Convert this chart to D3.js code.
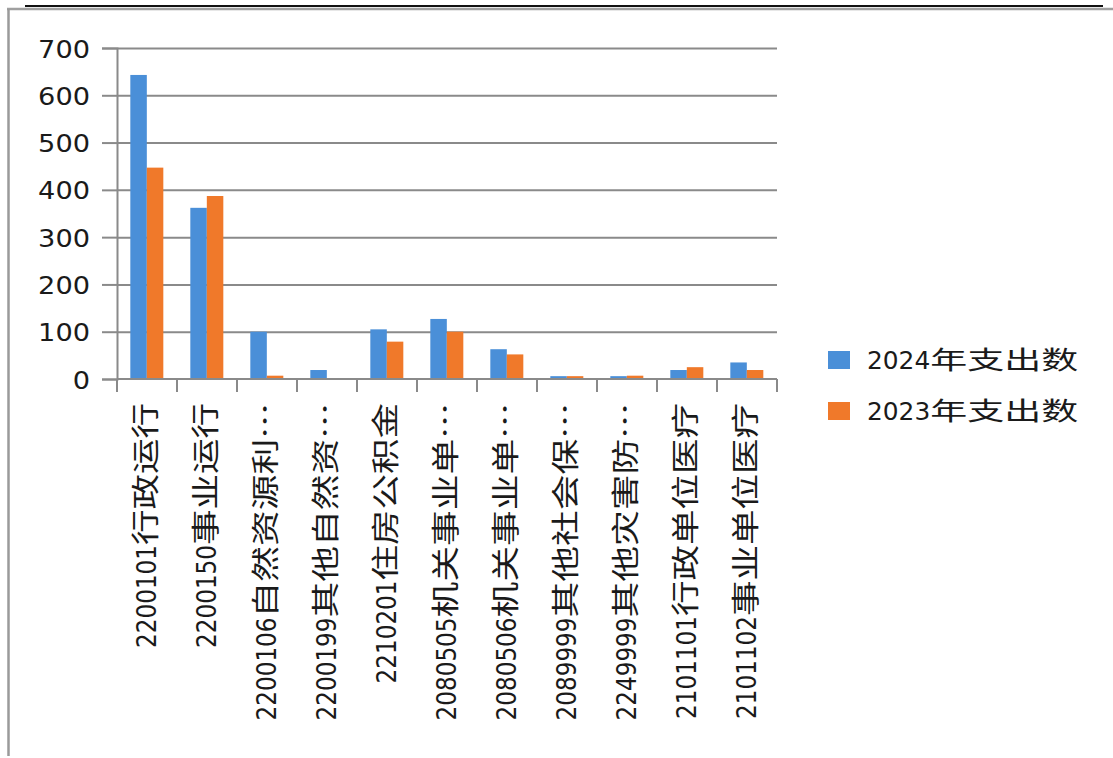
<!DOCTYPE html>
<html>
<head>
<meta charset="utf-8">
<script src="https://cdn.jsdelivr.net/npm/d3@7"></script>
<style>
  html, body { margin: 0; padding: 0; background: #ffffff; }
  svg { display: block; }
  text { fill: #1a1a1a; }
</style>
</head>
<body>
<svg id="chart" width="1113" height="758"></svg>
<script>
// ---- data ----
const categories = [
  "2200101行政运行",
  "2200150事业运行",
  "2200106自然资源利…",
  "2200199其他自然资…",
  "2210201住房公积金",
  "2080505机关事业单…",
  "2080506机关事业单…",
  "2089999其他社会保…",
  "2249999其他灾害防…",
  "2101101行政单位医疗",
  "2101102事业单位医疗"
];
const seriesNames = ["2024年支出数", "2023年支出数"];
const values2024 = [643, 362, 100, 19, 105, 127, 63, 6, 6, 19, 35];
const values2023 = [447, 387, 7, 0, 79, 100, 52, 6, 7, 25, 19];
const yTicks = [0, 100, 200, 300, 400, 500, 600, 700];

// ---- styles / layout ----
const colors = {"2024年支出数": "#4a8fd8", "2023年支出数": "#f0792a"};
const lineColor = "#8a8a8a";
const fontCJK = "'Noto Sans CJK SC', 'Noto Sans', sans-serif";
const fontNum = "'DejaVu Sans', Verdana, sans-serif";

function splitLabel(str) {
  const m = str.match(/^([0-9]*)(.*)$/);
  return {num: m[1], rest: m[2]};
}
function restLen(str, cjkW, ellW) {
  let w = 0;
  for (const ch of str) w += (ch === "…") ? ellW : cjkW;
  return w;
}

const svg = d3.select("#chart");

// frame
svg.append("line").attr("x1", 7).attr("x2", 1113).attr("y1", 9).attr("y2", 9)
  .attr("stroke", "#a0a0a0").attr("stroke-width", 2.5);
svg.append("line").attr("x1", 25).attr("x2", 1103).attr("y1", 6).attr("y2", 6)
  .attr("stroke", "#111").attr("stroke-width", 2.2);
svg.append("line").attr("x1", 8.5).attr("x2", 8.5).attr("y1", 9).attr("y2", 756)
  .attr("stroke", "#9a9a9a").attr("stroke-width", 2.5);

const y = d3.scaleLinear().domain([0, 700]).range([379, 48]);
const x0 = d3.scaleBand().domain(categories).range([117, 777]).paddingInner(0).paddingOuter(0);
const bw = x0.bandwidth();
const x1 = d3.scaleBand().domain(seriesNames).range([bw * 0.222, bw * 0.772]);

// gridlines
const grid = svg.append("g").attr("transform", `translate(117,0)`)
  .call(d3.axisLeft(y).tickValues(yTicks.filter(v => v > 0)).tickSize(-660).tickFormat(""));
grid.select(".domain").remove();
grid.selectAll("line").attr("stroke", lineColor).attr("stroke-width", 2);

// bars
const rows = categories.map((c, i) => ({cat: c, vals: [
  {s: seriesNames[0], v: values2024[i]},
  {s: seriesNames[1], v: values2023[i]}
]}));
const gBars = svg.append("g");
gBars.selectAll("g").data(rows).join("g")
  .attr("transform", d => `translate(${x0(d.cat)},0)`)
  .selectAll("rect").data(d => d.vals).join("rect")
  .attr("x", d => x1(d.s))
  .attr("width", x1.bandwidth())
  .attr("y", d => y(d.v))
  .attr("height", d => y(0) - y(d.v))
  .attr("fill", d => colors[d.s]);

// y axis
const yAxis = svg.append("g").attr("transform", `translate(117,0)`)
  .call(d3.axisLeft(y).tickValues(yTicks).tickSize(15).tickPadding(12));
yAxis.select(".domain").attr("stroke", lineColor).attr("stroke-width", 2);
yAxis.selectAll(".tick line").attr("stroke", lineColor).attr("stroke-width", 2);
yAxis.selectAll(".tick text")
  .attr("font-family", fontNum).attr("font-size", 25).attr("fill", "#1a1a1a")
  .attr("x", -27)
  .attr("dy", "0.36em")
  .attr("textLength", d => String(d).length * 17.3)
  .attr("lengthAdjust", "spacingAndGlyphs");

// x axis line and ticks at category boundaries
svg.append("line").attr("x1", 117).attr("x2", 777).attr("y1", y(0)).attr("y2", y(0))
  .attr("stroke", lineColor).attr("stroke-width", 2);
const bounds = categories.map(c => x0(c)).concat([x0.range()[1]]);
svg.append("g").selectAll("line").data(bounds).join("line")
  .attr("x1", d => d).attr("x2", d => d)
  .attr("y1", y(0)).attr("y2", y(0) + 13)
  .attr("stroke", lineColor).attr("stroke-width", 2);

// x labels (rotated): code digits + Chinese name, each fitted to the original widths
const labelTop = 403;
const xl = svg.append("g").selectAll("g").data(categories).join("g")
  .attr("transform", d => `translate(${x0(d) + bw / 2 - 1},0)`);
xl.append("text")
  .attr("transform", `translate(0,${labelTop}) rotate(-90)`)
  .attr("text-anchor", "end")
  .attr("dy", "0.36em")
  .attr("font-family", fontCJK)
  .attr("font-size", 28)
  .attr("textLength", d => restLen(splitLabel(d).rest, 35.5, 37))
  .attr("lengthAdjust", "spacingAndGlyphs")
  .text(d => splitLabel(d).rest);
xl.append("text")
  .attr("transform", d => `translate(0,${labelTop + restLen(splitLabel(d).rest, 35.5, 37)}) rotate(-90)`)
  .attr("text-anchor", "end")
  .attr("dy", "0.36em")
  .attr("font-family", fontNum)
  .attr("font-size", 27)
  .attr("textLength", d => splitLabel(d).num.length * 14.7)
  .attr("lengthAdjust", "spacingAndGlyphs")
  .text(d => splitLabel(d).num);

// legend
const legend = svg.append("g").selectAll("g").data(seriesNames).join("g")
  .attr("transform", (d, i) => `translate(828,${351 + i * 51})`);
legend.append("rect").attr("width", 22).attr("height", 18).attr("fill", d => colors[d]);
legend.append("text")
  .attr("x", 39).attr("y", 9).attr("dy", "0.36em")
  .attr("font-family", fontNum).attr("font-size", 24)
  .attr("textLength", d => splitLabel(d).num.length * 15.8)
  .attr("lengthAdjust", "spacingAndGlyphs")
  .text(d => splitLabel(d).num);
legend.append("text")
  .attr("x", d => 39 + splitLabel(d).num.length * 15.8).attr("y", 9).attr("dy", "0.36em")
  .attr("font-family", fontCJK).attr("font-size", 25)
  .attr("textLength", d => restLen(splitLabel(d).rest, 37, 37))
  .attr("lengthAdjust", "spacingAndGlyphs")
  .text(d => splitLabel(d).rest);
</script>
</body>
</html>
